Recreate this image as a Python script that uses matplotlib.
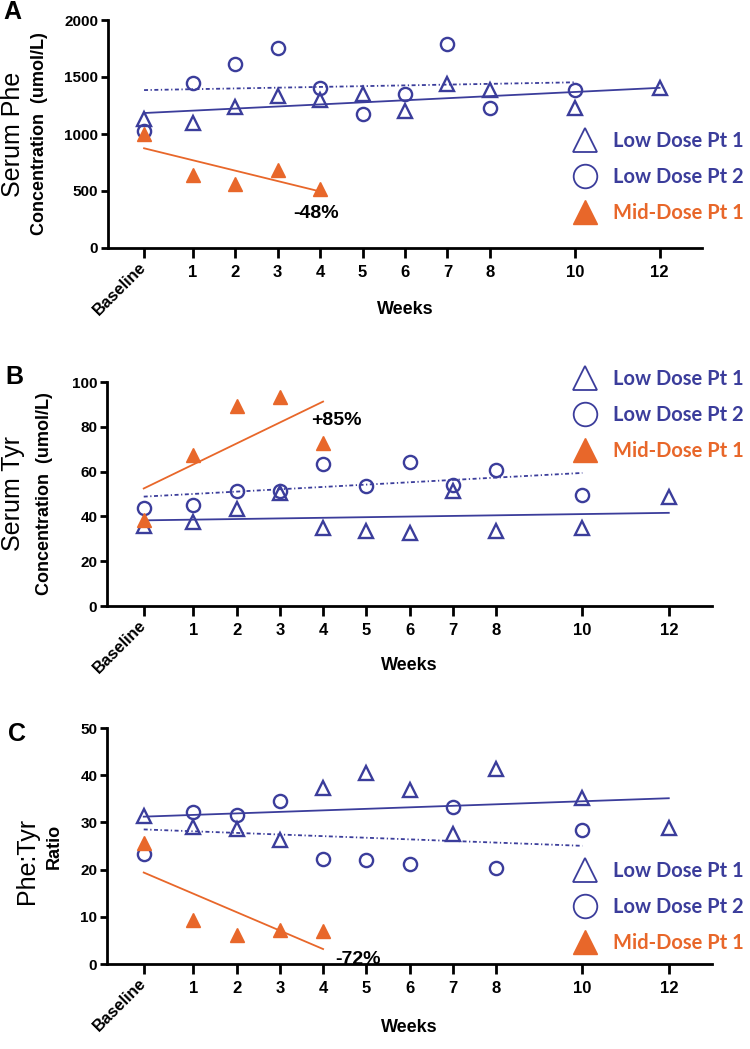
import numpy as np
import matplotlib
matplotlib.use("Agg")
import matplotlib.pyplot as plt
from matplotlib.lines import Line2D

# ---------------- data ----------------
tick_labels = ["Baseline", "1", "2", "3", "4", "5", "6", "7", "8", "10", "12"]
weeks = [-0.15, 1, 2, 3, 4, 5, 6, 7, 8, 10, 12]          # x position of each visit
weeks_pt2 = weeks[:10]                                   # Low Dose Pt 2 visits (to week 10)
weeks_mid = weeks[:5]                                    # Mid-Dose Pt 1 visits (to week 4)

# Panel A: Serum Phe (umol/L)
phe_low1 = [1135, 1095, 1235, 1337, 1300, 1350, 1203, 1437, 1387, 1226, 1401]
phe_low2 = [1022, 1445, 1615, 1758, 1401, 1174, 1349, 1787, 1232, 1387]
phe_mid1 = [1000, 642, 564, 680, 520]

# Panel B: Serum Tyr (umol/L)
tyr_low1 = [35.7, 37.6, 43.1, 50.6, 34.9, 33.6, 32.7, 51.5, 33.6, 34.9, 48.8]
tyr_low2 = [43.9, 45.2, 51.5, 51.5, 63.3, 53.7, 64.2, 54.0, 60.7, 49.6]
tyr_mid1 = [38.5, 67.5, 89.4, 93.3, 72.7]

# Panel C: Phe:Tyr ratio
rat_low1 = [31.4, 29.1, 28.5, 26.3, 37.2, 40.4, 36.8, 27.5, 41.3, 35.1, 28.9]
rat_low2 = [23.2, 32.3, 31.5, 34.5, 22.2, 22.0, 21.2, 33.3, 20.3, 28.4]
rat_mid1 = [25.6, 9.4, 6.2, 7.3, 7.0]

series_names = ["Low Dose Pt 1", "Low Dose Pt 2", "Mid-Dose Pt 1"]
pct_labels = ["-48%", "+85%", "-72%"]

BLUE = "#3b3d9b"
ORANGE = "#e8672a"

W, H = 750, 1049
fig = plt.figure(figsize=(W / 100, H / 100), dpi=100)

def px_axes(left, right, top, bottom):
    return fig.add_axes([left / W, 1 - bottom / H, (right - left) / W, (bottom - top) / H])

TICKFONT = "Liberation Sans"

panels = [
    dict(box=(108, 702, 20, 248), ylim=(0, 2000), yticks=[0, 500, 1000, 1500, 2000],
         d=(phe_low1, phe_low2, phe_mid1), letter="A", letter_xy=(3, 19),
         pct=pct_labels[0], pct_xy=(3.9, 300),
         big="Serum Phe", small="Concentration  (umol/L)", big_x=13, small_x=40, big_dy=0,
         weeks_y=310, leg_y=177),
    dict(box=(107, 712, 382, 606), ylim=(0, 100), yticks=[0, 20, 40, 60, 80, 100],
         d=(tyr_low1, tyr_low2, tyr_mid1), letter="B", letter_xy=(5, 384),
         pct=pct_labels[1], pct_xy=(4.3, 83),
         big="Serum Tyr", small="Concentration  (umol/L)", big_x=13, small_x=45, big_dy=0,
         weeks_y=665, leg_y=415),
    dict(box=(107, 712, 728, 964), ylim=(0, 50), yticks=[0, 10, 20, 30, 40, 50],
         d=(rat_low1, rat_low2, rat_mid1), letter="C", letter_xy=(8, 741),
         pct=pct_labels[2], pct_xy=(4.8, 0.9),
         big="Phe:Tyr", small="Ratio", big_x=27, small_x=54, big_dy=15,
         weeks_y=1028, leg_y=907),
]

for p in panels:
    l, r, t, b = p["box"]
    ax = px_axes(l, r, t, b)
    low1, low2, mid1 = p["d"]

    # regression lines
    for xs, ys, col, ls in [(weeks, low1, BLUE, "-"),
                            (weeks_pt2, low2, BLUE, (0, (2.2, 1.4, 0.7, 1.4))),
                            (weeks_mid, mid1, ORANGE, "-")]:
        k, c = np.polyfit(xs, ys, 1)
        xe = np.array([xs[0], xs[-1]])
        ax.plot(xe, k * xe + c, color=col, lw=1.3, ls=ls, zorder=2)

    ax.plot(weeks, low1, ls="none", marker="^", ms=10, mfc="none", mec=BLUE, mew=1.7, zorder=3, clip_on=False)
    ax.plot(weeks_pt2, low2, ls="none", marker="o", ms=9.5, mfc="none", mec=BLUE, mew=1.7, zorder=3, clip_on=False)
    ax.plot(weeks_mid, mid1, ls="none", marker="^", ms=10, mfc=ORANGE, mec=ORANGE, mew=1, zorder=4, clip_on=False)

    ax.set_xlim(-1, 13)
    ax.set_ylim(*p["ylim"])
    ax.set_yticks(p["yticks"])
    ax.set_xticks(weeks)
    ax.set_xticklabels(tick_labels)
    for s in ["top", "right"]:
        ax.spines[s].set_visible(False)
    for s in ["left", "bottom"]:
        ax.spines[s].set_linewidth(2)
    ax.tick_params(axis="y", length=5, width=2, labelsize=11, pad=2)
    ax.tick_params(axis="x", length=7, width=2, labelsize=12, pad=5)
    for lab in ax.get_yticklabels():
        lab.set_fontfamily(TICKFONT); lab.set_fontweight("bold")
    for i, lab in enumerate(ax.get_xticklabels()):
        lab.set_fontfamily(TICKFONT); lab.set_fontweight("bold")
        if i == 0:
            lab.set_rotation(45); lab.set_ha("right"); lab.set_rotation_mode("anchor")
            lab.set_va("center")

    ax.text(*p["pct_xy"], p["pct"], fontsize=14, fontweight="bold", family=TICKFONT,
            ha="center", va="center", color="black", zorder=5)

    cy = (t + b) / 2
    fig.text(p["big_x"] / W, 1 - (cy + p["big_dy"]) / H, p["big"], rotation=90, fontsize=18,
             family=TICKFONT, ha="center", va="center")
    fig.text(p["small_x"] / W, 1 - cy / H, p["small"], rotation=90, fontsize=13,
             family=TICKFONT, fontweight="bold", ha="center", va="center")
    fig.text(p["letter_xy"][0] / W, 1 - p["letter_xy"][1] / H, p["letter"], fontsize=18,
             family=TICKFONT, fontweight="bold", ha="left", va="baseline")
    fig.text(((l + r) / 2) / W, 1 - p["weeks_y"] / H, "Weeks", fontsize=13,
             family=TICKFONT, fontweight="bold", ha="center", va="center")

    handles = [Line2D([], [], ls="none", marker="^", ms=17, mfc="none", mec=BLUE, mew=1.3),
               Line2D([], [], ls="none", marker="o", ms=17, mfc="none", mec=BLUE, mew=1.3),
               Line2D([], [], ls="none", marker="^", ms=17, mfc=ORANGE, mec=ORANGE)]
    leg = fig.legend(handles, series_names, loc="center left",
                     bbox_to_anchor=(571 / W, 1 - p["leg_y"] / H),
                     frameon=False, borderpad=0, borderaxespad=0, handlelength=1.4,
                     handletextpad=0.7, labelspacing=0.8,
                     prop=dict(family="Lato", weight="bold", size=14.5))
    for txt, col in zip(leg.get_texts(), [BLUE, BLUE, ORANGE]):
        txt.set_color(col)

fig.savefig("out.png", dpi=100)
